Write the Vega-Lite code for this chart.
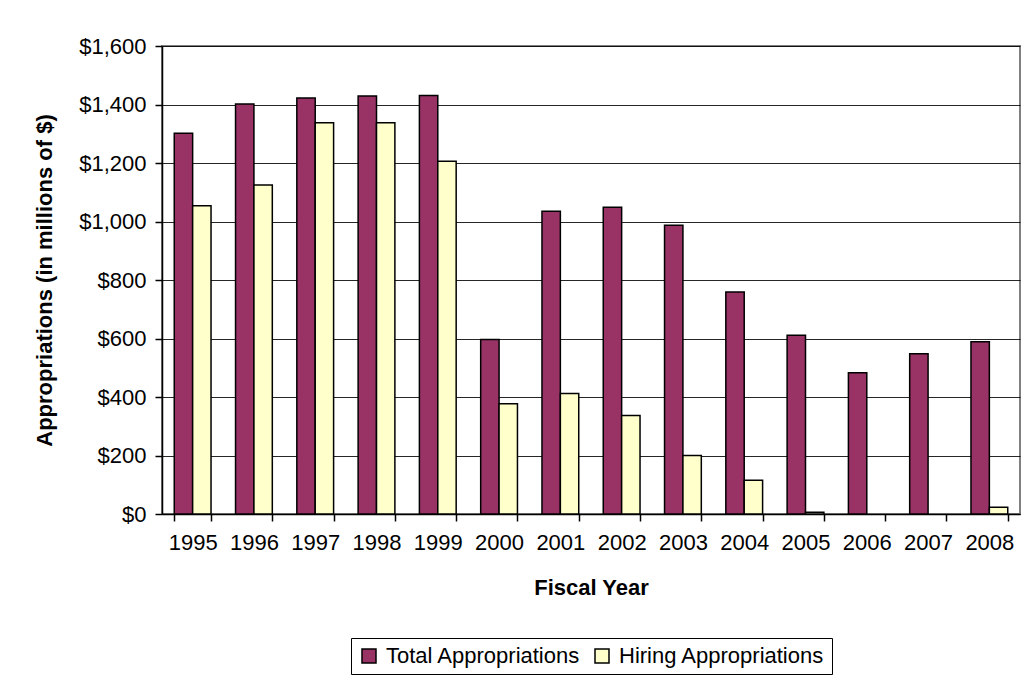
{
  "$schema": "https://vega.github.io/schema/vega-lite/v6.json",
  "autosize": "none",
  "width": 858,
  "height": 468,
  "padding": {"left": 162, "top": 46, "right": 8, "bottom": 173},
  "background": "white",
  "config": {
    "font": "Liberation Sans",
    "view": {"stroke": "#808080", "strokeWidth": 2},
    "axis": {
      "labelFont": "Liberation Sans",
      "titleFont": "Liberation Sans",
      "labelFontSize": 22,
      "titleFontSize": 22,
      "labelColor": "#000000",
      "titleColor": "#000000",
      "domainColor": "#000000",
      "tickColor": "#000000",
      "domainWidth": 1.5,
      "tickWidth": 1.5,
      "tickSize": 7
    }
  },
  "data": {
    "values": [
      {"year": "1995", "series": "Total Appropriations", "value": 1302},
      {"year": "1995", "series": "Hiring Appropriations", "value": 1054},
      {"year": "1996", "series": "Total Appropriations", "value": 1402},
      {"year": "1996", "series": "Hiring Appropriations", "value": 1125},
      {"year": "1997", "series": "Total Appropriations", "value": 1422},
      {"year": "1997", "series": "Hiring Appropriations", "value": 1338},
      {"year": "1998", "series": "Total Appropriations", "value": 1429},
      {"year": "1998", "series": "Hiring Appropriations", "value": 1338},
      {"year": "1999", "series": "Total Appropriations", "value": 1431},
      {"year": "1999", "series": "Hiring Appropriations", "value": 1206},
      {"year": "2000", "series": "Total Appropriations", "value": 597},
      {"year": "2000", "series": "Hiring Appropriations", "value": 377},
      {"year": "2001", "series": "Total Appropriations", "value": 1035},
      {"year": "2001", "series": "Hiring Appropriations", "value": 412},
      {"year": "2002", "series": "Total Appropriations", "value": 1049},
      {"year": "2002", "series": "Hiring Appropriations", "value": 337},
      {"year": "2003", "series": "Total Appropriations", "value": 987},
      {"year": "2003", "series": "Hiring Appropriations", "value": 200},
      {"year": "2004", "series": "Total Appropriations", "value": 759},
      {"year": "2004", "series": "Hiring Appropriations", "value": 115},
      {"year": "2005", "series": "Total Appropriations", "value": 611},
      {"year": "2005", "series": "Hiring Appropriations", "value": 6},
      {"year": "2006", "series": "Total Appropriations", "value": 483},
      {"year": "2006", "series": "Hiring Appropriations", "value": 0},
      {"year": "2007", "series": "Total Appropriations", "value": 548},
      {"year": "2007", "series": "Hiring Appropriations", "value": 0},
      {"year": "2008", "series": "Total Appropriations", "value": 589},
      {"year": "2008", "series": "Hiring Appropriations", "value": 23}
    ]
  },
  "mark": {"type": "bar", "stroke": "#000000"},
  "encoding": {
    "x": {
      "field": "year",
      "type": "ordinal",
      "title": "Fiscal Year",
      "scale": {"paddingInner": 0.4, "paddingOuter": 0.2},
      "axis": {
        "labelAngle": 0,
        "tickBand": "extent",
        "labelPadding": 11,
        "titlePadding": 24,
        "grid": false
      }
    },
    "xOffset": {
      "field": "series",
      "type": "nominal",
      "sort": ["Total Appropriations", "Hiring Appropriations"],
      "scale": {"paddingInner": 0, "paddingOuter": 0}
    },
    "y": {
      "field": "value",
      "type": "quantitative",
      "title": "Appropriations (in millions of $)",
      "scale": {"domain": [0, 1600]},
      "axis": {
        "values": [0, 200, 400, 600, 800, 1000, 1200, 1400, 1600],
        "format": "$,.0f",
        "labelPadding": 9,
        "titlePadding": 22,
        "grid": true,
        "gridColor": "#000000",
        "gridWidth": 1,
        "gridOpacity": 0.85
      }
    },
    "strokeWidth": {
      "condition": {"test": "datum.value > 0", "value": 1.5},
      "value": 0
    },
    "fill": {
      "field": "series",
      "type": "nominal",
      "sort": ["Total Appropriations", "Hiring Appropriations"],
      "scale": {
        "domain": ["Total Appropriations", "Hiring Appropriations"],
        "range": ["#993366", "#FFFFCC"]
      },
      "legend": {
        "title": null,
        "orient": "none",
        "direction": "horizontal",
        "legendX": 189,
        "legendY": 592,
        "symbolType": "square",
        "symbolSize": 196,
        "symbolStrokeColor": "#000000",
        "symbolStrokeWidth": 1.5,
        "labelFont": "Liberation Sans",
        "labelFontSize": 22,
        "labelColor": "#000000",
        "labelLimit": 400,
        "columnPadding": 10,
        "labelOffset": 6,
        "padding": 7,
        "strokeColor": "#000000",
        "fillColor": "#ffffff"
      }
    }
  }
}
